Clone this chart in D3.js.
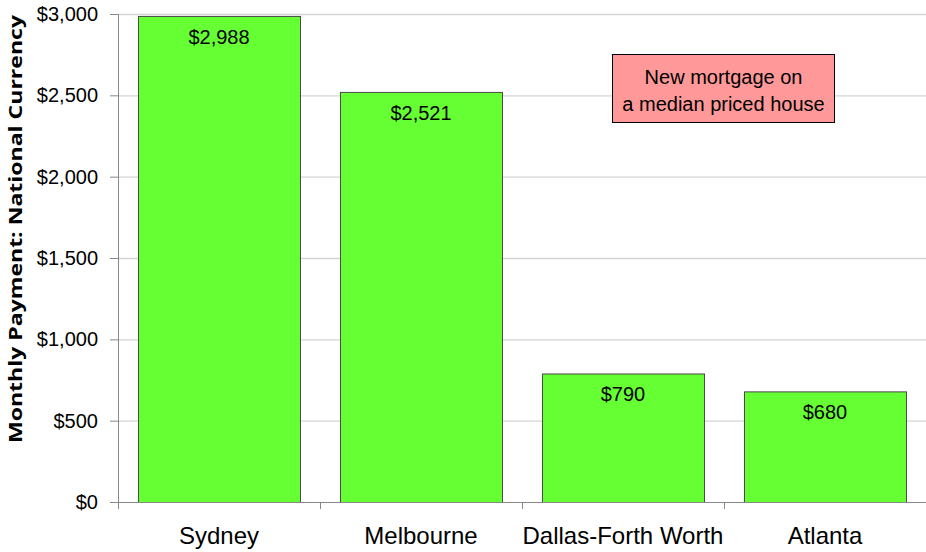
<!DOCTYPE html>
<html>
<head>
<meta charset="utf-8">
<script src="https://cdn.jsdelivr.net/npm/d3@7"></script>
<style>
  body { margin: 0; background: #fff; }
</style>
</head>
<body>
<script>
var cities = ["Sydney", "Melbourne", "Dallas-Forth Worth", "Atlanta"];
var payments = [2988, 2521, 790, 680];
var yTicks = [0, 500, 1000, 1500, 2000, 2500, 3000];
var noteLines = ["New mortgage on", "a median priced house"];

var w = 926,
    h = 552;

var margin = { top: 14, right: 0, bottom: 50, left: 118 },
    width = w - margin.left - margin.right,
    height = h - margin.top - margin.bottom;

var font = "Liberation Sans, Arial, sans-serif";

var svg = d3
    .select("body")
    .append("svg")
    .attr("width", w)
    .attr("height", h)
    .append("g")
    .attr("transform", "translate(" + margin.left + "," + margin.top + ")");

var x = d3.scaleBand()
    .domain(cities)
    .range([0, width])
    .paddingInner(0.198)
    .paddingOuter(0.099);

var y = d3.scaleLinear()
    .domain([0, 3000])
    .range([height, 0]);

// gridlines
svg.append("g")
    .selectAll("line")
    .data(yTicks.slice(1))
    .enter()
    .append("line")
    .attr("x1", 0)
    .attr("x2", width)
    .attr("y1", function (d) { return y(d) + 0.5; })
    .attr("y2", function (d) { return y(d) + 0.5; })
    .attr("stroke", "#d4d4d4")
    .attr("stroke-width", 1.3);

// bars
svg.selectAll("rect.bar")
    .data(payments)
    .enter()
    .append("rect")
    .attr("class", "bar")
    .attr("x", function (d, i) { return x(cities[i]) + 0.5; })
    .attr("y", function (d) { return y(d) + 0.5; })
    .attr("width", x.bandwidth())
    .attr("height", function (d) { return height - y(d); })
    .attr("fill", "#66ff33")
    .attr("stroke", "#4a4a4a")
    .attr("stroke-width", 1);

// value labels
svg.selectAll("text.val")
    .data(payments)
    .enter()
    .append("text")
    .attr("class", "val")
    .attr("x", function (d, i) { return x(cities[i]) + x.bandwidth() / 2; })
    .attr("y", function (d) { return y(d) + 28; })
    .attr("text-anchor", "middle")
    .style("font-family", font)
    .style("font-size", "20px")
    .attr("fill", "#000")
    .text(function (d) { return d3.format("$,")(d); });

// y axis
var yaxis = svg.append("g")
    .call(d3.axisLeft(y).tickValues(yTicks).tickSize(8).tickPadding(12)
        .tickFormat(function (d) { return d3.format("$,")(d); }));
yaxis.select(".domain").attr("stroke", "#888");
yaxis.selectAll(".tick line").attr("stroke", "#888");
yaxis.selectAll(".tick text")
    .style("font-family", font)
    .style("font-size", "20px")
    .attr("fill", "#000");

// x axis
var xaxis = svg.append("g")
    .attr("transform", "translate(0," + height + ")");
xaxis.append("line")
    .attr("x1", 0).attr("x2", width)
    .attr("y1", 0.5).attr("y2", 0.5)
    .attr("stroke", "#888");
xaxis.selectAll("line.sep")
    .data(cities)
    .enter()
    .append("line")
    .attr("class", "sep")
    .attr("x1", function (d) { return x(d) - x.step() * 0.099 + 0.5; })
    .attr("x2", function (d) { return x(d) - x.step() * 0.099 + 0.5; })
    .attr("y1", 0).attr("y2", 7)
    .attr("stroke", "#888");
xaxis.selectAll("text")
    .data(cities)
    .enter()
    .append("text")
    .attr("x", function (d) { return x(d) + x.bandwidth() / 2; })
    .attr("y", 42)
    .attr("text-anchor", "middle")
    .style("font-family", font)
    .style("font-size", "24px")
    .attr("fill", "#000")
    .text(function (d) { return d; });

// y title
svg.append("text")
    .attr("transform", "translate(" + (22 - margin.left) + "," + (229 - margin.top) + ") rotate(-90)")
    .attr("text-anchor", "middle")
    .style("font-family", "Open Sans, sans-serif")
    .style("font-weight", "bold")
    .style("font-size", "18px")
    .attr("textLength", 428)
    .attr("lengthAdjust", "spacingAndGlyphs")
    .attr("fill", "#000")
    .text("Monthly Payment: National Currency");

// annotation box
var note = svg.append("g")
    .attr("transform", "translate(" + (612.5 - margin.left) + "," + (54.5 - margin.top) + ")");
note.append("rect")
    .attr("width", 222)
    .attr("height", 68)
    .attr("fill", "#ff9999")
    .attr("stroke", "#000")
    .attr("stroke-width", 1);
note.selectAll("text")
    .data(noteLines)
    .enter()
    .append("text")
    .attr("x", 111)
    .attr("y", function (d, i) { return 29 + i * 27; })
    .attr("text-anchor", "middle")
    .style("font-family", font)
    .style("font-size", "20px")
    .attr("fill", "#000")
    .text(function (d) { return d; });
</script>
</body>
</html>
